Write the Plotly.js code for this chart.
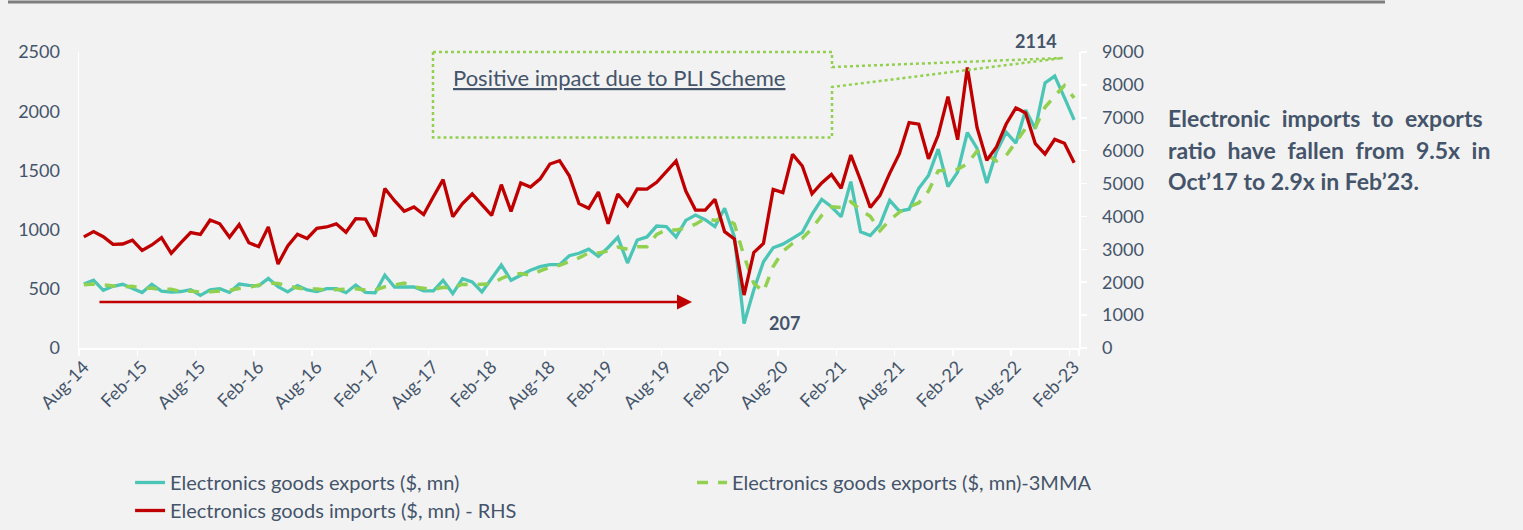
<!DOCTYPE html>
<html><head><meta charset="utf-8">
<script src="https://cdn.plot.ly/plotly-3.0.1.min.js"></script>
<style>html,body{margin:0;padding:0;background:#f2f2f2;} #chart{width:1523px;height:530px;}</style>
</head><body><div id="chart"></div>
<script>
const categories = [
 "Aug-14","Sep-14","Oct-14","Nov-14","Dec-14",
 "Jan-15","Feb-15","Mar-15","Apr-15","May-15","Jun-15","Jul-15","Aug-15","Sep-15","Oct-15","Nov-15","Dec-15",
 "Jan-16","Feb-16","Mar-16","Apr-16","May-16","Jun-16","Jul-16","Aug-16","Sep-16","Oct-16","Nov-16","Dec-16",
 "Jan-17","Feb-17","Mar-17","Apr-17","May-17","Jun-17","Jul-17","Aug-17","Sep-17","Oct-17","Nov-17","Dec-17",
 "Jan-18","Feb-18","Mar-18","Apr-18","May-18","Jun-18","Jul-18","Aug-18","Sep-18","Oct-18","Nov-18","Dec-18",
 "Jan-19","Feb-19","Mar-19","Apr-19","May-19","Jun-19","Jul-19","Aug-19","Sep-19","Oct-19","Nov-19","Dec-19",
 "Jan-20","Feb-20","Mar-20","Apr-20","May-20","Jun-20","Jul-20","Aug-20","Sep-20","Oct-20","Nov-20","Dec-20",
 "Jan-21","Feb-21","Mar-21","Apr-21","May-21","Jun-21","Jul-21","Aug-21","Sep-21","Oct-21","Nov-21","Dec-21",
 "Jan-22","Feb-22","Mar-22","Apr-22","May-22","Jun-22","Jul-22","Aug-22","Sep-22","Oct-22","Nov-22","Dec-22",
 "Jan-23","Feb-23"];

const tickLabels = ["Aug-14","Feb-15","Aug-15","Feb-16","Aug-16","Feb-17","Aug-17","Feb-18","Aug-18",
 "Feb-19","Aug-19","Feb-20","Aug-20","Feb-21","Aug-21","Feb-22","Aug-22","Feb-23"];

// Electronics goods exports ($, mn) - left axis
const exportsVal = [540,573,487,521,538,505,468,538,480,473,
 477,493,444,492,500,469,540,529,525,588,
 518,474,527,490,476,501,501,467,532,470,
 466,615,515,515,515,483,483,572,460,586,
 558,473,588,701,572,614,656,687,704,704,
 779,800,834,774,849,935,718,912,938,1030,
 1025,937,1078,1123,1084,1025,1180,940,207,490,
 729,846,877,926,976,1128,1256,1193,1109,1405,
 982,950,1039,1247,1156,1172,1349,1458,1680,1363,
 1485,1820,1686,1393,1658,1823,1731,2010,1852,2238,
 2297,2114,1926];

// Electronics goods exports ($, mn) - 3MMA - left axis
const exports3MMA = [535,540,533,527,515,521,504,504,495,497,
 477,481,471,476,479,487,503,513,531,547,
 544,527,506,497,498,489,493,490,500,490,
 489,517,532,548,515,504,494,513,505,539,
 535,539,540,587,620,629,614,652,682,698,
 729,761,804,803,819,853,834,855,856,960,
 998,997,1013,1046,1095,1077,1096,1048,776,546,
 475,688,817,883,926,1010,1120,1192,1186,1236,
 1165,1112,990,1079,1147,1192,1226,1326,1496,1500,
 1509,1556,1664,1633,1579,1625,1737,1855,1864,2033,
 2129,2216,2112];

// Electronics goods imports ($, mn) - right axis
const importsVal = [3380,3540,3385,3152,3162,3278,2965,3132,3355,2878,
 3203,3510,3456,3892,3775,3365,3755,3200,3081,3680,
 2554,3105,3460,3330,3638,3679,3775,3517,3932,3922,
 3390,4850,4480,4160,4290,4060,4601,5120,3993,4390,
 4682,4360,4030,4966,4155,5017,4895,5145,5594,5695,
 5235,4390,4246,4740,3780,4682,4330,4840,4830,5040,
 5370,5690,4770,4196,4190,4520,3537,3315,1611,2899,
 3182,4824,4723,5888,5534,4690,5017,5275,4855,5868,
 5100,4270,4640,5310,5908,6856,6805,5750,6476,7642,
 6334,8530,6704,5705,6112,6811,7300,7145,6213,5898,
 6344,6223,5635];

const FONT = 'Lato, "Open Sans", sans-serif';
const TXT = '#44546a';

const traces = [
  {x: categories, y: exportsVal, type: 'scatter', mode: 'lines',
   name: 'Electronics goods exports ($, mn)', legend: 'legend',
   line: {color: '#4bc5b5', width: 3.3}},
  {x: categories, y: exports3MMA, type: 'scatter', mode: 'lines',
   name: 'Electronics goods exports ($, mn)-3MMA', legend: 'legend3',
   line: {color: '#92d050', width: 3.5, dash: '11px,10px'}},
  {x: categories, y: importsVal, type: 'scatter', mode: 'lines', yaxis: 'y2',
   name: 'Electronics goods imports ($, mn) - RHS', legend: 'legend2',
   line: {color: '#c00000', width: 3.3}}
];

const legendBase = {
  orientation: 'h', xref: 'container', yref: 'container', xanchor: 'left', yanchor: 'top',
  bgcolor: 'rgba(0,0,0,0)', borderwidth: 0,
  font: {family: FONT, size: 20, color: TXT}
};

const layout = {
  width: 1523, height: 530,
  paper_bgcolor: '#f2f2f2', plot_bgcolor: '#f2f2f2',
  margin: {l: 79, r: 444, t: 52, b: 182},
  font: {family: FONT, color: TXT},
  showlegend: true,
  xaxis: {
    type: 'category', range: [-0.5, 102.5], automargin: false,
    tickmode: 'array', tickvals: tickLabels, ticktext: tickLabels,
    tickson: 'boundaries', ticks: 'outside', ticklen: 6, tickwidth: 1.5, tickcolor: '#ffffff',
    showline: true, linecolor: '#ffffff', linewidth: 1.5,
    showgrid: false, zeroline: false, tickangle: -45,
    tickfont: {family: FONT, size: 18, color: TXT}
  },
  yaxis: {
    range: [0, 2500], tickmode: 'linear', tick0: 0, dtick: 500, automargin: false,
    showgrid: false, zeroline: false, showline: true, linecolor: '#ffffff', linewidth: 1.5,
    ticks: '', ticklabelstandoff: 14,
    tickfont: {family: FONT, size: 18, color: TXT}
  },
  yaxis2: {
    overlaying: 'y', side: 'right', anchor: 'x', automargin: false,
    range: [0, 9000], tickmode: 'linear', tick0: 0, dtick: 1000,
    showgrid: false, zeroline: false, showline: true, linecolor: '#ffffff', linewidth: 1.5,
    ticks: 'outside', ticklen: 6, tickwidth: 1.5, tickcolor: '#ffffff', ticklabelstandoff: 12,
    tickfont: {family: FONT, size: 18, color: TXT}
  },
  legend: Object.assign({}, legendBase, {x: 0.0854, y: 0.1264}),
  legend3: Object.assign({}, legendBase, {x: 0.4544, y: 0.1264}),
  legend2: Object.assign({}, legendBase, {x: 0.0854, y: 0.0736}),
  shapes: [
    {type: 'path', xref: 'paper', yref: 'paper',
     path: 'M0.354,1 L0.753,1 L0.753,0.9493 L0.984,0.9797 L0.753,0.8818 L0.753,0.7111 L0.354,0.7111 Z',
     line: {color: '#92d050', width: 2.5, dash: 'dot'}, fillcolor: 'rgba(0,0,0,0)'},
    {type: 'line', xref: 'paper', yref: 'paper', x0: -0.071, x1: 1.306, y0: 1.169, y1: 1.169,
     line: {color: '#7f7f7f', width: 3}}
  ],
  annotations: [
    {xref: 'paper', yref: 'paper', x: 0.54, y: 0.9155, xanchor: 'center', yanchor: 'middle',
     text: '<u>Positive impact due to PLI Scheme</u>', showarrow: false,
     font: {family: FONT, size: 22, color: TXT}},
    {xref: 'paper', yref: 'paper', x: 0.957, y: 1.037, xanchor: 'center', yanchor: 'middle',
     text: '<b>2114</b>', showarrow: false, font: {family: FONT, size: 18, color: TXT}},
    {xref: 'paper', yref: 'paper', x: 0.705, y: 0.0845, xanchor: 'center', yanchor: 'middle',
     text: '<b>207</b>', showarrow: false, font: {family: FONT, size: 18, color: TXT}},
    {xref: 'paper', yref: 'paper', x: 0.613, y: 0.1554, text: '', showarrow: true,
     ax: -594, ay: 0, arrowhead: 2, arrowsize: 1.2, arrowwidth: 2.5, arrowcolor: '#c00000', standoff: 0},
    {xref: 'paper', yref: 'paper', x: 1.087, y: 0.777, xanchor: 'left', yanchor: 'middle',
     text: '<b>Electronic\u2002imports\u2002to\u2002exports</b>', showarrow: false, align: 'left',
     font: {family: FONT, size: 23, color: TXT}},
    {xref: 'paper', yref: 'paper', x: 1.087, y: 0.669, xanchor: 'left', yanchor: 'middle',
     text: '<b>ratio\u2002have\u2002fallen\u2002from\u20029.5x\u2002in</b>', showarrow: false, align: 'left',
     font: {family: FONT, size: 23, color: TXT}},
    {xref: 'paper', yref: 'paper', x: 1.087, y: 0.564, xanchor: 'left', yanchor: 'middle',
     text: '<b>Oct’17 to 2.9x in Feb’23.</b>', showarrow: false, align: 'left',
     font: {family: FONT, size: 23, color: TXT}}
  ]
};

Plotly.newPlot('chart', traces, layout, {displayModeBar: false, staticPlot: true});
</script></body></html>
